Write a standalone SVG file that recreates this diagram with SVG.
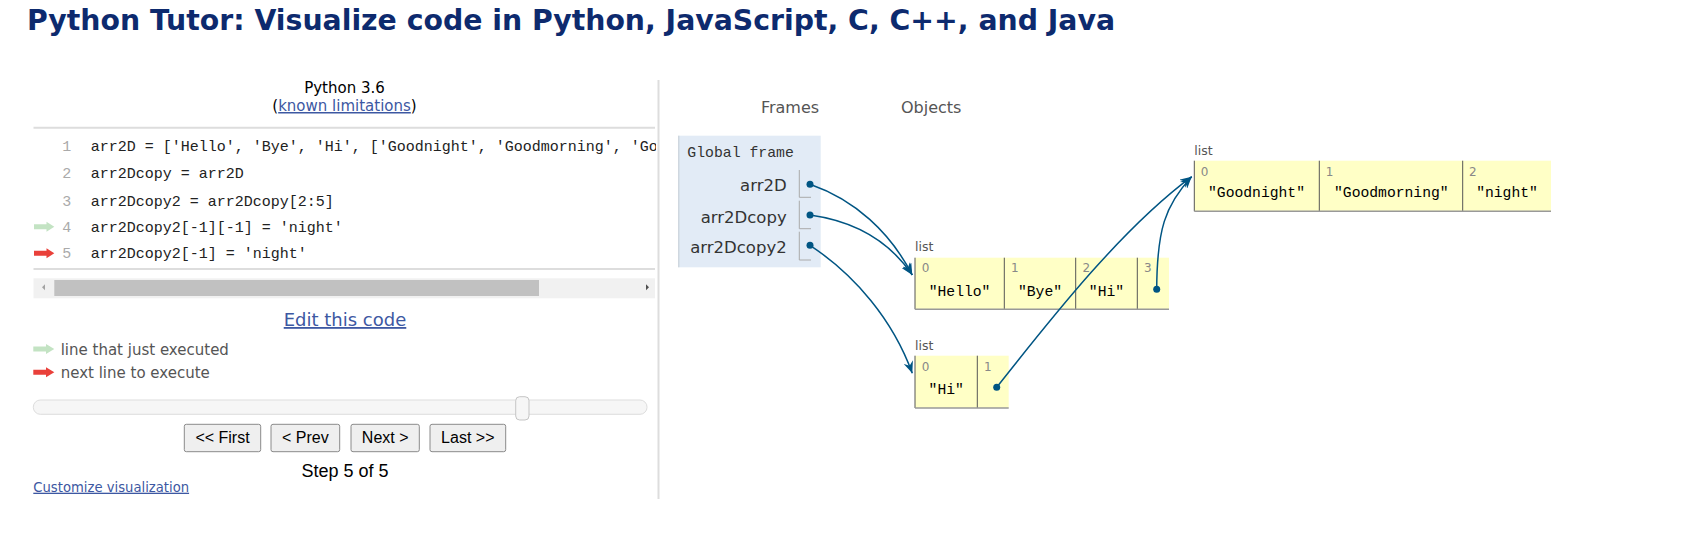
<svg xmlns="http://www.w3.org/2000/svg" width="1695" height="543" viewBox="0 0 1695 543">
<defs>
<style>
.sans{font-family:"DejaVu Sans",Verdana,sans-serif}
.mono{font-family:"Liberation Mono","DejaVu Sans Mono",monospace}
.arial{font-family:"Liberation Sans",Arial,sans-serif}
.code{font-size:15px;fill:#222}
.lnum{font-size:15px;fill:#aaa;text-anchor:middle}
.link{fill:#3D58A2;text-decoration:underline}
.legend{font-size:15px;fill:#555}
.btn{fill:#efefef;stroke:#8a8a8a;stroke-width:1}
.btntxt{font-size:16px;fill:#000;text-anchor:middle}
.hdr{font-size:16px;fill:#555}
.var{font-size:16.5px;fill:#333;text-anchor:end}
.vcell{fill:none;stroke:#aaa;stroke-width:1}
.lbl{font-size:12.5px;fill:#555}
.idx{font-size:12px;fill:#888}
.cell{fill:#ffffc6}
.cellb{stroke:#555;stroke-width:1}
.cellbot{stroke:#999;stroke-width:1.5}
.val{font-size:14.7px;fill:#000;text-anchor:middle}
.dot{fill:#005583}
.conn{fill:none;stroke:#005583;stroke-width:1.5}
</style>
<marker id="ah" markerUnits="userSpaceOnUse" markerWidth="13" markerHeight="10" refX="12" refY="5" orient="auto">
<path d="M0,0 L12,5 L0,10 L4,5 z" fill="#005583"/>
</marker>
<clipPath id="codeclip"><rect x="30" y="128" width="626" height="140"/></clipPath>
</defs>
<rect width="1695" height="543" fill="#fff"/>

<text x="27" y="30" class="sans" font-size="28.2" font-weight="bold" fill="#0d2a6e" textLength="1088" lengthAdjust="spacingAndGlyphs">Python Tutor: Visualize code in Python, JavaScript, C, C++, and Java</text>

<g id="code-panel">
<text x="344.5" y="92.7" class="sans" font-size="15" fill="#000" text-anchor="middle">Python 3.6</text>
<text x="344.5" y="111" class="sans" font-size="15" fill="#000" text-anchor="middle">(<tspan class="link">known limitations</tspan>)</text>
<line x1="33.5" y1="127.7" x2="655" y2="127.7" stroke="#ddd" stroke-width="2"/>
<g clip-path="url(#codeclip)" class="mono">
<text x="66.7" y="150.7" class="lnum">1</text>
<text x="66.7" y="178.3" class="lnum">2</text>
<text x="66.7" y="205.7" class="lnum">3</text>
<text x="66.7" y="232.3" class="lnum">4</text>
<text x="66.7" y="258.3" class="lnum">5</text>
<text x="90.7" y="150.7" class="code" xml:space="preserve">arr2D = ['Hello', 'Bye', 'Hi', ['Goodnight', 'Goodmorning', 'Go</text>
<text x="90.7" y="178.3" class="code" xml:space="preserve">arr2Dcopy = arr2D</text>
<text x="90.7" y="205.7" class="code" xml:space="preserve">arr2Dcopy2 = arr2Dcopy[2:5]</text>
<text x="90.7" y="232.3" class="code" xml:space="preserve">arr2Dcopy2[-1][-1] = 'night'</text>
<text x="90.7" y="258.3" class="code" xml:space="preserve">arr2Dcopy2[-1] = 'night'</text>
</g>
<polygon points="34,224.2 46.5,224.2 46.5,221.7 54.3,226.7 46.5,231.7 46.5,229.2 34,229.2" fill="#c3e3c3"/>
<polygon points="34,250.8 46.5,250.8 46.5,248.3 54.3,253.3 46.5,258.3 46.5,255.8 34,255.8" fill="#e9403a"/>
<line x1="33.5" y1="269" x2="655" y2="269" stroke="#ddd" stroke-width="2"/>
<rect x="33.5" y="278.3" width="621.5" height="20" fill="#f1f1f1"/>
<rect x="54.3" y="280" width="484.7" height="16" fill="#c1c1c1"/>
<polygon points="45,284.3 45,290.3 42,287.3" fill="#a3a3a3"/>
<polygon points="646,284.3 646,290.3 649,287.3" fill="#505050"/>
<text x="345" y="326" class="sans link" font-size="18" text-anchor="middle">Edit this code</text>
<polygon points="33.3,346.5 46,346.5 46,344 54.3,349 46,354 46,351.5 33.3,351.5" fill="#c3e3c3"/>
<text x="60.7" y="355" class="sans legend">line that just executed</text>
<polygon points="33.3,369.8 46,369.8 46,367.3 54.3,372.3 46,377.3 46,374.8 33.3,374.8" fill="#e9403a"/>
<text x="60.7" y="377.7" class="sans legend">next line to execute</text>
<rect x="33.3" y="400" width="613.7" height="14.3" rx="7" fill="#f6f6f6" stroke="#ddd" stroke-width="1"/>
<rect x="515.7" y="396.7" width="13.3" height="23.3" rx="4" fill="#f6f6f6" stroke="#c5c5c5" stroke-width="1"/>
<rect x="184.3" y="424.3" width="76.4" height="27.4" rx="2" class="btn"/>
<text x="222.5" y="443.3" class="arial btntxt">&lt;&lt; First</text>
<rect x="271" y="424.3" width="68.7" height="27.4" rx="2" class="btn"/>
<text x="305.3" y="443.3" class="arial btntxt">&lt; Prev</text>
<rect x="351" y="424.3" width="68.3" height="27.4" rx="2" class="btn"/>
<text x="385.2" y="443.3" class="arial btntxt">Next &gt;</text>
<rect x="430" y="424.3" width="75.7" height="27.4" rx="2" class="btn"/>
<text x="467.8" y="443.3" class="arial btntxt">Last &gt;&gt;</text>
<text x="345" y="476.7" class="arial" font-size="18" fill="#000" text-anchor="middle">Step 5 of 5</text>
<text x="33.3" y="491.7" class="sans link" font-size="13.2">Customize visualization</text>
</g>

<line x1="658.5" y1="80" x2="658.5" y2="499" stroke="#ddd" stroke-width="2"/>

<text x="790" y="113" class="sans hdr" text-anchor="middle">Frames</text>
<text x="901" y="113" class="sans hdr">Objects</text>

<g id="global-frame">
<rect x="678.3" y="135.7" width="142.4" height="131.6" fill="#e2ebf6"/>
<line x1="678.8" y1="135.7" x2="678.8" y2="267.3" stroke="#c4ccd4" stroke-width="1"/>
<text x="687.3" y="157.3" class="mono" font-size="14.8" fill="#333">Global frame</text>
<text x="786.7" y="191" class="sans var">arr2D</text>
<text x="786.7" y="222.7" class="sans var">arr2Dcopy</text>
<text x="786.7" y="252.7" class="sans var">arr2Dcopy2</text>
<polyline points="799.3,170 799.3,197.3 811,197.3" class="vcell"/>
<polyline points="799.3,200.7 799.3,228.7 811,228.7" class="vcell"/>
<polyline points="799.3,231.7 799.3,260 811,260" class="vcell"/>
<circle cx="810" cy="184.3" r="3.5" class="dot"/>
<circle cx="810" cy="215" r="3.5" class="dot"/>
<circle cx="810" cy="245.3" r="3.5" class="dot"/>
</g>

<g id="list-main">
<text x="915" y="251" class="sans lbl">list</text>
<rect x="915" y="257.7" width="254" height="51.6" class="cell"/>
<line x1="915" y1="257.7" x2="915" y2="309.3" class="cellb"/>
<line x1="1004.3" y1="257.7" x2="1004.3" y2="309.3" class="cellb"/>
<line x1="1075.7" y1="257.7" x2="1075.7" y2="309.3" class="cellb"/>
<line x1="1137.3" y1="257.7" x2="1137.3" y2="309.3" class="cellb"/>
<line x1="915" y1="309.3" x2="1169" y2="309.3" class="cellbot"/>
<text x="921.7" y="272.3" class="sans idx">0</text>
<text x="1011" y="272.3" class="sans idx">1</text>
<text x="1082.4" y="272.3" class="sans idx">2</text>
<text x="1144" y="272.3" class="sans idx">3</text>
<text x="959.6" y="296" class="mono val">"Hello"</text>
<text x="1040" y="296" class="mono val">"Bye"</text>
<text x="1106.5" y="296" class="mono val">"Hi"</text>
<circle cx="1156.7" cy="289.3" r="3.5" class="dot"/>
</g>

<g id="list-slice">
<text x="915" y="350" class="sans lbl">list</text>
<rect x="915" y="355.7" width="93.7" height="52.3" class="cell"/>
<line x1="915" y1="355.7" x2="915" y2="408" class="cellb"/>
<line x1="977.3" y1="355.7" x2="977.3" y2="408" class="cellb"/>
<line x1="915" y1="408" x2="1008.7" y2="408" class="cellbot"/>
<text x="921.7" y="371" class="sans idx">0</text>
<text x="984" y="371" class="sans idx">1</text>
<text x="946.2" y="394" class="mono val">"Hi"</text>
<circle cx="996.7" cy="387.3" r="3.5" class="dot"/>
</g>

<g id="list-inner">
<text x="1194.3" y="155" class="sans lbl">list</text>
<rect x="1194.3" y="160.7" width="356.7" height="50.6" class="cell"/>
<line x1="1194.3" y1="160.7" x2="1194.3" y2="211.3" class="cellb"/>
<line x1="1319.3" y1="160.7" x2="1319.3" y2="211.3" class="cellb"/>
<line x1="1462.7" y1="160.7" x2="1462.7" y2="211.3" class="cellb"/>
<line x1="1194.3" y1="211.3" x2="1551" y2="211.3" class="cellbot"/>
<text x="1200.7" y="176" class="sans idx">0</text>
<text x="1325.7" y="176" class="sans idx">1</text>
<text x="1469" y="176" class="sans idx">2</text>
<text x="1256.5" y="196.7" class="mono val">"Goodnight"</text>
<text x="1391.3" y="196.7" class="mono val">"Goodmorning"</text>
<text x="1507" y="196.7" class="mono val">"night"</text>
</g>

<g id="connectors">
<path class="conn" marker-end="url(#ah)" d="M810,184.3 C855,200 890,232 912.3,275"/>
<path class="conn" marker-end="url(#ah)" d="M810,215 C860,222 892,245 912.3,275"/>
<path class="conn" marker-end="url(#ah)" d="M810,245.3 C855,275 893,320 912.3,373.3"/>
<path class="conn" marker-end="url(#ah)" d="M996.7,387.3 C1050,320 1120,230 1191.7,176.7"/>
<path class="conn" marker-end="url(#ah)" d="M1156.7,289.3 C1157,230 1165,205 1191.7,176.7"/>
</g>
</svg>
